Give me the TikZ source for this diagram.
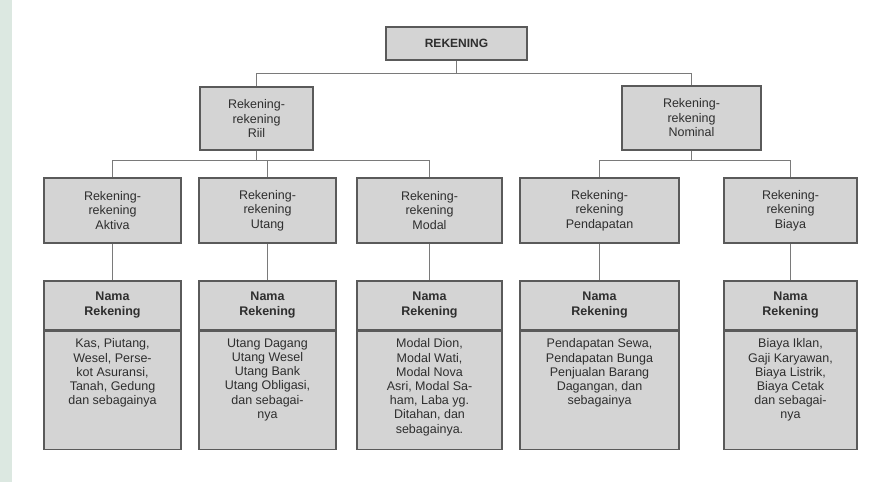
\documentclass[tikz,border=0pt]{standalone}
\usepackage{fontspec}
\setmainfont{Liberation Sans}
\definecolor{boxfill}{HTML}{D4D4D4}
\definecolor{boxline}{HTML}{5A5A5A}
\definecolor{wire}{HTML}{7A7A7A}
\definecolor{txt}{HTML}{2E2E2E}
\definecolor{strip}{HTML}{DCE8E1}
\tikzset{
  box/.style={draw=boxline, fill=boxfill, line width=1.1pt, rectangle, inner sep=0pt,
    align=center, text=txt, font=\fontsize{12.5}{14.5}\selectfont},
  toplbl/.style={box, font=\bfseries\fontsize{12}{14}\selectfont},
  headbox/.style={box, font=\bfseries\fontsize{12.5}{15}\selectfont},
  bodybox/.style={box, anchor=north},
  bodytext/.style={align=center, text=txt, inner sep=0pt, anchor=north, font=\fontsize{12.5}{14.2}\selectfont},
  wireline/.style={draw=wire, line width=0.9pt}
}
\begin{document}
\begin{tikzpicture}[x=1pt,y=-1pt]
\fill[white] (0,0) rectangle (886,482);
\useasboundingbox (0,0) rectangle (886,482);
\fill[strip] (0,0) rectangle (12,482);

% top
\node[toplbl, minimum width=141pt, minimum height=33pt] (top) at (456.5,43.5) {REKENING};
% second level
\node[box, minimum width=113pt, minimum height=63pt] (riil) at (256.5,118.5) {Rekening-\\rekening\\Riil};
\node[box, minimum width=139pt, minimum height=64pt] (nom) at (691.5,118) {Rekening-\\rekening\\Nominal};
% third level
\node[box, minimum width=137pt, minimum height=65pt] (akt) at (112.5,210.5) {Rekening-\\rekening\\Aktiva};
\node[box, minimum width=137pt, minimum height=65pt] (utg) at (267.5,210.5) {Rekening-\\rekening\\Utang};
\node[box, minimum width=145pt, minimum height=65pt] (mod) at (429.5,210.5) {Rekening-\\rekening\\Modal};
\node[box, minimum width=159pt, minimum height=65pt] (pen) at (599.5,210.5) {Rekening-\\rekening\\Pendapatan};
\node[box, minimum width=133pt, minimum height=65pt] (bia) at (790.5,210.5) {Rekening-\\rekening\\Biaya};
% header boxes
\node[headbox, minimum width=137pt, minimum height=49pt] (aktH) at (112.5,305.5) {Nama\\Rekening};
\node[headbox, minimum width=137pt, minimum height=49pt] (utgH) at (267.5,305.5) {Nama\\Rekening};
\node[headbox, minimum width=145pt, minimum height=49pt] (modH) at (429.5,305.5) {Nama\\Rekening};
\node[headbox, minimum width=159pt, minimum height=49pt] (penH) at (599.5,305.5) {Nama\\Rekening};
\node[headbox, minimum width=133pt, minimum height=49pt] (biaH) at (790.5,305.5) {Nama\\Rekening};
% body boxes
\node[bodybox, minimum width=137pt, minimum height=118pt] (aktB) at (aktH.south) {};
\node[bodybox, minimum width=137pt, minimum height=118pt] (utgB) at (utgH.south) {};
\node[bodybox, minimum width=145pt, minimum height=118pt] (modB) at (modH.south) {};
\node[bodybox, minimum width=159pt, minimum height=118pt] (penB) at (penH.south) {};
\node[bodybox, minimum width=133pt, minimum height=118pt] (biaB) at (biaH.south) {};
% body texts
\node[bodytext] (aktT) at ([yshift=-8pt]aktB.north) {Kas, Piutang,\\Wesel, Perse-\\kot Asuransi,\\Tanah, Gedung\\dan sebagainya};
\node[bodytext] (utgT) at ([yshift=-8pt]utgB.north) {Utang Dagang\\Utang Wesel\\Utang Bank\\Utang Obligasi,\\dan sebagai-\\nya};
\node[bodytext] (modT) at ([yshift=-8pt]modB.north) {Modal Dion,\\Modal Wati,\\Modal Nova\\Asri, Modal Sa-\\ham, Laba yg.\\Ditahan, dan\\sebagainya.};
\node[bodytext] (penT) at ([yshift=-8pt]penB.north) {Pendapatan Sewa,\\Pendapatan Bunga\\Penjualan Barang\\Dagangan, dan\\sebagainya};
\node[bodytext] (biaT) at ([yshift=-8pt]biaB.north) {Biaya Iklan,\\Gaji Karyawan,\\Biaya Listrik,\\Biaya Cetak\\dan sebagai-\\nya};

% connectors
\coordinate (j1) at ([yshift=-13pt]top.south);
\draw[wireline] (top.south) -- (j1);
\draw[wireline] (j1) -| (riil.north);
\draw[wireline] (j1) -| (nom.north);

\coordinate (j2) at ([yshift=-10pt]riil.south);
\draw[wireline] (riil.south) -- (j2);
\draw[wireline] (j2) -| (akt.north);
\draw[wireline] (j2) -| (utg.north);
\draw[wireline] (j2) -| (mod.north);

\coordinate (j3) at ([yshift=-10pt]nom.south);
\draw[wireline] (nom.south) -- (j3);
\draw[wireline] (j3) -| (pen.north);
\draw[wireline] (j3) -| (bia.north);

\draw[wireline] (akt.south) -- (aktH.north);
\draw[wireline] (utg.south) -- (utgH.north);
\draw[wireline] (mod.south) -- (modH.north);
\draw[wireline] (pen.south) -- (penH.north);
\draw[wireline] (bia.south) -- (biaH.north);
\end{tikzpicture}
\end{document}
